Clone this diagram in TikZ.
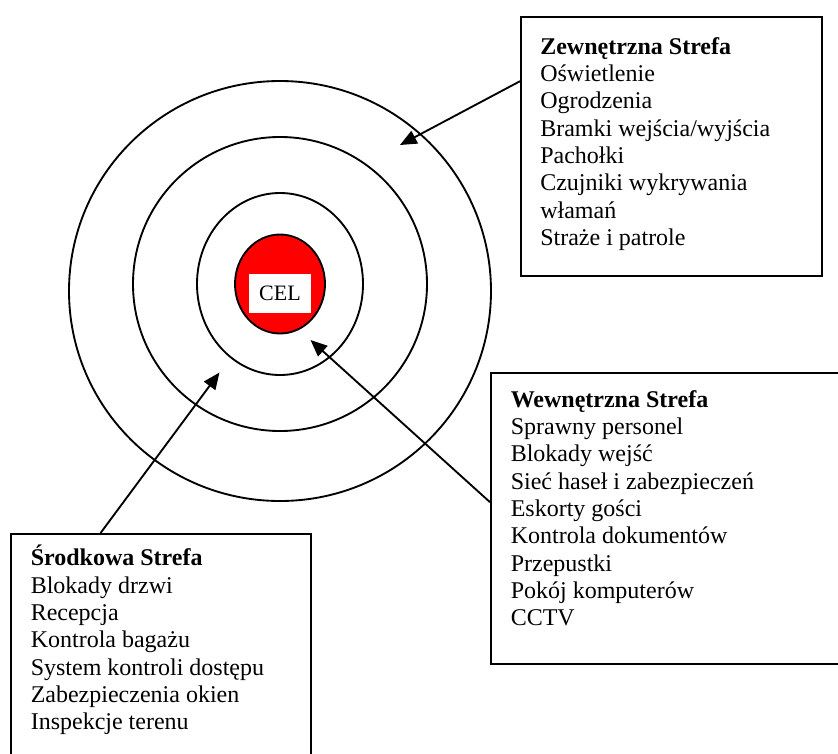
\documentclass[tikz,border=0pt]{standalone}
\usepackage{fontspec}
\setmainfont{Liberation Serif}
\usetikzlibrary{arrows.meta,calc}
\definecolor{targetred}{HTML}{FF0000}

\tikzset{
  ring/.style={line width=1.4pt},
  zonebox/.style={draw, line width=1.4pt, rectangle, inner sep=0pt, anchor=north west},
  zonetext/.style={anchor=north west, inner sep=0pt, align=left, font=\fontsize{18}{20.5}\selectfont},
  pointer/.style={line width=1.4pt, -{Triangle[length=12.5pt,width=10.5pt]}}
}

\begin{document}
\begin{tikzpicture}[x=0.75pt,y=-0.75pt]
\useasboundingbox (0,0) rectangle (838,753);

% Rings
\draw[ring] (280,291) ellipse [x radius=211, y radius=210];
\draw[ring] (280,284) ellipse [x radius=147, y radius=147];
\draw[ring] (280,284) ellipse [x radius=83, y radius=91];

% Target
\draw[ring, fill=targetred] (280,284) ellipse [x radius=45, y radius=49.5];
\node[fill=white, inner sep=0pt, minimum width=46.5pt, minimum height=29.25pt, font=\fontsize{16.5}{18}\selectfont] (target) at (280,293) {CEL};

% Outer zone
\node[zonebox, minimum width=225.75pt, minimum height=194.25pt] (outerbox) at (520,16) {};
\node[zonetext] (outertext) at (540,37) {\textbf{Zewnętrzna Strefa}\\Oświetlenie\\Ogrodzenia\\Bramki wejścia/wyjścia\\Pachołki\\Czujniki wykrywania\\włamań\\Straże i patrole};
\coordinate (outerzone) at (400,145);
\draw[pointer] ($(outerbox.north west)!0.25!(outerbox.south west)$) -- (outerzone);

% Inner zone
\node[zonebox, minimum width=270pt, minimum height=218pt] (innerbox) at (490,372) {};
\node[zonetext] (innertext) at (510.5,390) {\textbf{Wewnętrzna Strefa}\\Sprawny personel\\Blokady wejść\\Sieć haseł i zabezpieczeń\\Eskorty gości\\Kontrola dokumentów\\Przepustki\\Pokój komputerów\\CCTV};
\coordinate (innerzone) at (310.5,340);
\draw[pointer] ($(innerbox.north west)!0.445!(innerbox.south west)$) -- (innerzone);

% Middle zone
\node[zonebox, minimum width=225pt, minimum height=177.75pt] (middlebox) at (10,533) {};
\node[zonetext] (middletext) at (30.5,545) {\textbf{Środkowa Strefa}\\Blokady drzwi\\Recepcja\\Kontrola bagażu\\System kontroli dostępu\\Zabezpieczenia okien\\Inspekcje terenu};
\coordinate (middlezone) at (219.5,372.5);
\draw[pointer] ($(middlebox.north west)!0.3!(middlebox.north east)$) -- (middlezone);
\end{tikzpicture}
\end{document}
